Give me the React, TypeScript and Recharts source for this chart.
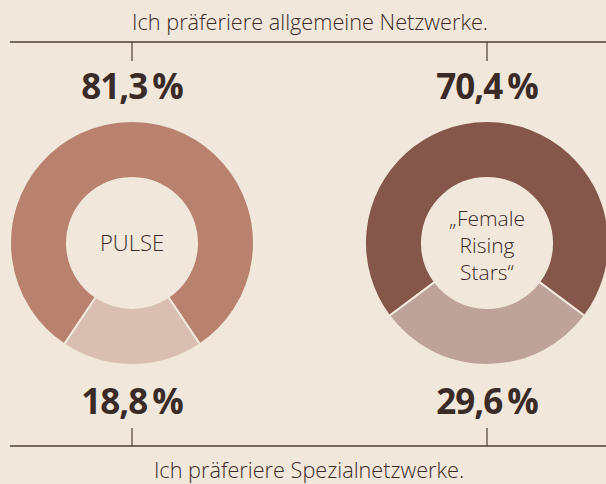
import { PieChart, Pie, Cell, Customized } from "recharts";

const groups = ["PULSE", "„Female Rising Stars“"];
const generalShare = [81.3, 70.4];
const specialShare = [18.8, 29.6];
const topCaption = "Ich präferiere allgemeine Netzwerke.";
const bottomCaption = "Ich präferiere Spezialnetzwerke.";

const W = 606;
const H = 484;
const BG = "#f1e7db";
const INK = "#3a2b27";
const LINE = "#4e3f3a";
const centersX = [132, 487];
const CY = 243;
const colors = [
  ["#b8826f", "#d9beb2"],
  ["#84574a", "#bda39a"],
];
const font = "'Open Sans', 'Noto Sans', sans-serif";

const fmt = (v: number) => `${v.toFixed(1).replace(".", ",")}\u2009%`;

function Decorations() {
  return (
    <g>
      <text x={310} y={30} textAnchor="middle" fontFamily={font} fontWeight={300} fontSize={21.7} fill={INK}>
        {topCaption}
      </text>
      <line x1={10} x2={W} y1={42} y2={42} stroke={LINE} strokeWidth={1.5} />
      <line x1={10} x2={W} y1={446} y2={446} stroke={LINE} strokeWidth={1.5} />
      <text x={309} y={478} textAnchor="middle" fontFamily={font} fontWeight={300} fontSize={21.7} fill={INK}>
        {bottomCaption}
      </text>
      {centersX.map((cx, i) => (
        <g key={i}>
          <line x1={cx} x2={cx} y1={42} y2={61} stroke={LINE} strokeWidth={1.2} />
          <line x1={cx} x2={cx} y1={428} y2={446} stroke={LINE} strokeWidth={1.2} />
          <text x={cx} y={99} textAnchor="middle" fontFamily={font} fontWeight={700} fontSize={35} fill={INK} letterSpacing={-1}>
            {fmt(generalShare[i])}
          </text>
          <text x={cx} y={414} textAnchor="middle" fontFamily={font} fontWeight={700} fontSize={35} fill={INK} letterSpacing={-1}>
            {fmt(specialShare[i])}
          </text>
        </g>
      ))}
      <text x={centersX[0]} y={251} textAnchor="middle" fontFamily={font} fontWeight={300} fontSize={22} fill={INK}>
        {groups[0]}
      </text>
      {["„Female", "Rising", "Stars“"].map((t, k) => (
        <text key={k} x={centersX[1]} y={226 + k * 27} textAnchor="middle" fontFamily={font} fontWeight={300} fontSize={21} fill={INK}>
          {t}
        </text>
      ))}
    </g>
  );
}

export default function App() {
  return (
    <div style={{ position: "absolute", left: 0, top: 0, width: W, height: H, background: BG }}>
      <PieChart width={W} height={H} margin={{ top: 0, right: 0, bottom: 0, left: 0 }}>
        {groups.map((g, i) => {
          const half = (specialShare[i] * 3.6) / 2;
          const start = -90 + half;
          const data = [
            { name: "allgemein", value: generalShare[i] },
            { name: "speziell", value: specialShare[i] },
          ];
          return (
            <Pie
              key={g}
              data={data}
              dataKey="value"
              cx={centersX[i]}
              cy={CY}
              innerRadius={65}
              outerRadius={122}
              startAngle={start}
              endAngle={start + 360}
              stroke={BG}
              strokeWidth={2}
              isAnimationActive={false}
            >
              {data.map((d, k) => (
                <Cell key={d.name} fill={colors[i][k]} />
              ))}
            </Pie>
          );
        })}
        <Customized component={Decorations} />
      </PieChart>
    </div>
  );
}
